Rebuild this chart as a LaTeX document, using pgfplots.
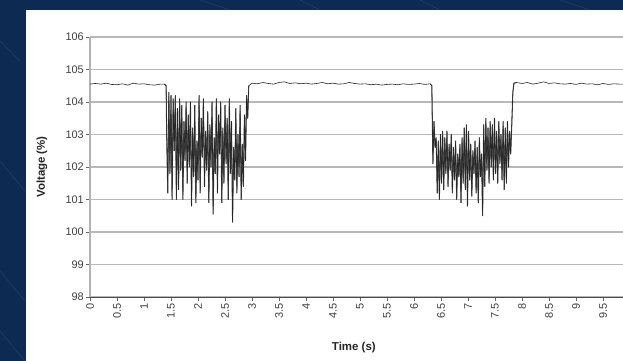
\documentclass[border=0pt]{standalone}
\usepackage{pgfplots}
\pgfplotsset{compat=1.18}
\usepackage{fontspec}
\setmainfont{Liberation Sans}
\definecolor{navy}{RGB}{12,42,82}
\definecolor{navyline}{RGB}{28,60,102}
\begin{document}
\begin{tikzpicture}[x=1bp,y=1bp]
\path[use as bounding box] (0bp,0bp) rectangle (623bp,361bp);
\fill[navy] (0bp,0bp) rectangle (623bp,361bp);
\draw[navyline, line width=0.8bp] (0bp,320bp) -- (20bp,300bp) (0bp,200bp) -- (25bp,170bp) (0bp,90bp) -- (25bp,60bp) (0bp,30bp) -- (25bp,0bp)
  (200bp,361bp) -- (230bp,351bp) (300bp,361bp) -- (320bp,351bp) (420bp,361bp) -- (440bp,351bp) (560bp,361bp) -- (590bp,351bp);
\fill[white] (26bp,0bp) rectangle (623bp,351bp);
\pgfplotstableread{
t v
0 104.55
0.1 104.57
0.2 104.55
0.3 104.58
0.4 104.54
0.5 104.53
0.6 104.56
0.7 104.52
0.8 104.58
0.9 104.55
1.0 104.56
1.1 104.53
1.2 104.52
1.3 104.55
1.38 104.55
1.41 104.5
1.42 103.0
1.44 101.2
1.46 104.3
1.48 101.8
1.50 104.2
1.52 101.0
1.54 104.1
1.56 102.5
1.58 104.2
1.60 101.0
1.62 103.8
1.64 101.3
1.66 104.1
1.68 101.9
1.70 103.9
1.72 101.0
1.74 103.4
1.76 102.2
1.78 104.0
1.80 101.5
1.82 103.6
1.84 102.0
1.86 104.0
1.88 100.8
1.90 103.2
1.92 101.7
1.94 103.9
1.96 100.9
1.98 102.8
2.00 101.6
2.02 104.2
2.04 101.2
2.06 103.5
2.08 102.3
2.10 104.1
2.12 101.4
2.14 103.1
2.16 101.9
2.18 103.7
2.20 100.9
2.22 103.3
2.24 102.0
2.26 104.0
2.28 100.55
2.30 102.9
2.32 101.8
2.34 104.1
2.36 101.2
2.38 103.6
2.40 102.4
2.42 104.0
2.44 100.9
2.46 103.2
2.48 101.5
2.50 103.9
2.52 102.1
2.54 103.5
2.56 101.0
2.58 104.1
2.60 101.8
2.62 103.4
2.64 100.3
2.66 102.6
2.68 101.6
2.70 103.8
2.72 101.2
2.74 103.0
2.76 101.7
2.78 103.9
2.80 101.0
2.82 102.7
2.84 101.4
2.86 103.6
2.88 102.2
2.90 104.2
2.92 103.5
2.94 104.5
3.0 104.58
3.1 104.56
3.2 104.6
3.3 104.57
3.4 104.55
3.5 104.6
3.6 104.62
3.7 104.57
3.8 104.59
3.9 104.56
4.0 104.58
4.1 104.55
4.2 104.57
4.3 104.6
4.4 104.56
4.5 104.58
4.6 104.55
4.7 104.56
4.8 104.6
4.9 104.57
5.0 104.55
5.1 104.56
5.2 104.53
5.3 104.55
5.4 104.52
5.5 104.54
5.6 104.55
5.7 104.53
5.8 104.56
5.9 104.54
6.0 104.55
6.1 104.57
6.2 104.54
6.3 104.56
6.33 104.5
6.35 102.1
6.37 103.4
6.39 102.6
6.41 102.9
6.43 101.2
6.45 102.8
6.47 101.0
6.49 103.0
6.51 101.5
6.53 103.1
6.55 101.3
6.57 102.9
6.59 101.8
6.61 103.1
6.63 101.4
6.65 102.7
6.67 101.9
6.69 103.0
6.71 101.2
6.73 102.6
6.75 101.6
6.77 102.8
6.79 101.0
6.81 102.4
6.83 101.7
6.85 102.7
6.87 100.9
6.89 102.9
6.91 101.5
6.93 103.2
6.95 101.3
6.97 103.3
6.99 100.8
7.01 103.1
7.03 101.6
7.05 102.7
7.07 101.1
7.09 102.5
7.11 101.8
7.13 102.8
7.15 101.2
7.17 102.6
7.19 100.9
7.21 102.9
7.23 101.7
7.25 102.4
7.27 100.5
7.29 103.3
7.31 101.4
7.33 103.5
7.35 101.9
7.37 103.2
7.39 101.5
7.41 103.4
7.43 102.0
7.45 103.3
7.47 101.6
7.49 103.5
7.51 101.8
7.53 103.1
7.55 101.5
7.57 103.4
7.59 102.1
7.61 103.0
7.63 101.6
7.65 103.4
7.67 101.3
7.69 103.2
7.71 101.5
7.73 103.4
7.75 102.0
7.77 103.1
7.79 102.4
7.81 103.3
7.83 104.3
7.85 104.58
7.9 104.6
8.0 104.57
8.1 104.6
8.2 104.55
8.3 104.58
8.4 104.62
8.5 104.57
8.6 104.59
8.7 104.56
8.8 104.55
8.9 104.57
9.0 104.54
9.1 104.58
9.2 104.55
9.3 104.56
9.4 104.53
9.5 104.57
9.6 104.54
9.7 104.56
9.8 104.55
9.87 104.55
}\voltdata
\begin{axis}[
  at={(90bp,64bp)}, anchor=south west, scale only axis,
  width=533bp, height=260bp,
  xmin=0, xmax=9.87, ymin=98, ymax=106,
  axis x line*=bottom, axis y line*=left,
  x axis line style={black!70, line width=0.6bp, -},
  y axis line style={black!30, line width=1.4bp, -},
  ymajorgrids, grid style={black!28, line width=1.3bp},
  ytick={98,99,...,106},
  xtick={0,0.5,...,9.5},
  tick align=outside, major tick length=4bp,
  tick style={black!60, line width=0.6bp},
  /pgf/number format/assume math mode=true,
  /pgf/number format/fixed,
  ticklabel style={font=\fontsize{11}{13}\selectfont, text=black!75},
  xticklabel style={rotate=90, anchor=east, inner sep=2bp},
  yticklabel style={inner sep=2bp},
  xlabel={\textbf{Time (s)}}, ylabel={\textbf{Voltage (\%)}},
  label style={font=\fontsize{11.5}{13}\selectfont\bfseries, text=black!85},
  xlabel style={at={(axis description cs:0.495,-0.196)}, anchor=center},
  ylabel style={at={(axis description cs:-0.09,0.5)}, anchor=center},
  clip=true,
]
\addplot[black!65, line width=1.0bp, line join=round] table[restrict x to domain=1.38:2.96] {\voltdata};
\addplot[black!65, line width=1.0bp, line join=round] table[restrict x to domain=6.3:7.9] {\voltdata};
\addplot[black!85, line width=0.6bp, line join=round] table {\voltdata};
\end{axis}
\end{tikzpicture}
\end{document}
